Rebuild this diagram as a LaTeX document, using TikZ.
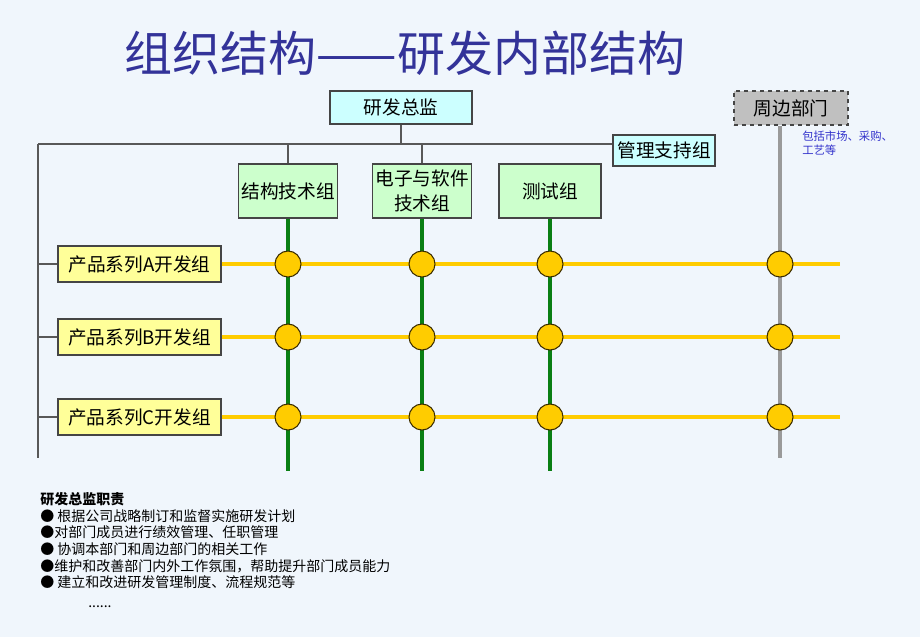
\documentclass[tikz,border=0pt]{standalone}
\usepackage{fontspec}
\setmainfont{Noto Sans CJK SC}
\usepackage{xcolor}
\usetikzlibrary{positioning,calc}
\definecolor{pagebg}{HTML}{F0F6FC}
\definecolor{titleblue}{HTML}{333399}
\definecolor{notecolor}{HTML}{3333CC}
\definecolor{boxedge}{HTML}{454545}
\definecolor{leadfill}{HTML}{CCFFFF}
\definecolor{techfill}{HTML}{CCFFCC}
\definecolor{prodfill}{HTML}{FFFF99}
\definecolor{periphfill}{HTML}{C0C0C0}
\definecolor{hubyellow}{HTML}{FFCC00}
\definecolor{hubedge}{HTML}{3D2E00}
\definecolor{techgreen}{HTML}{0A7F14}
\definecolor{periphgray}{HTML}{9A9A9A}

\begin{document}
\begin{tikzpicture}[
    x=0.75pt,
    y=-0.75pt,
    orgbox/.style={
        rectangle,
        draw=boxedge,
        line width=0.8pt,
        inner sep=2pt,
        align=center,
        font=\fontsize{14}{18.75}\selectfont
    },
    leadbox/.style={
        orgbox,
        fill=leadfill
    },
    techbox/.style={
        orgbox,
        fill=techfill,
        minimum height=40.5pt
    },
    prodbox/.style={
        orgbox,
        fill=prodfill,
        minimum width=122.25pt,
        minimum height=27pt
    },
    periphbox/.style={
        orgbox,
        fill=periphfill,
        dashed,
        minimum width=85.5pt,
        minimum height=25.5pt
    },
    link/.style={
        line width=1pt,
        color=boxedge!90
    },
    greenline/.style={
        line width=3pt,
        color=techgreen
    },
    yellowline/.style={
        line width=3pt,
        color=hubyellow
    },
    grayline/.style={
        line width=3pt,
        color=periphgray
    },
    hub/.style={
        circle,
        minimum size=19.5pt,
        inner sep=0pt,
        fill=hubyellow,
        draw=hubedge,
        line width=0.8pt
    }
]

% Page
\fill[pagebg] (0,0) rectangle (920,637);
\useasboundingbox (0,0) rectangle (920,637);

% Title
\node[text=titleblue, font=\fontsize{36}{42}\selectfont] (title) at (405,53) {组织结构——研发内部结构};

% Top boxes
\node[leadbox, minimum width=106.5pt, minimum height=24.75pt] (director) at (401,107.5) {研发总监};
\node[leadbox, minimum width=76.5pt, minimum height=23.25pt] (mgmt) at (664,150.5) {管理支持组};
\node[periphbox] (periph) at (791,108) {周边部门};
\node[text=notecolor, anchor=north west, align=left, inner sep=0pt,
      font=\fontsize{8.5}{10.5}\selectfont] (note) at (802,131) {包括市场、采购、\\工艺等};

% Technical groups
\node[techbox, minimum width=74.25pt] (struct) at (288,191) {结构技术组};
\node[techbox, minimum width=74.25pt] (elec) at (422,191) {电子与软件\\技术组};
\node[techbox, minimum width=76.5pt] (test) at (550,191) {测试组};

% Product series groups
\foreach \row/\ry in {A/264, B/337, C/417} {
    \node[prodbox] (prod\row) at (139.5,\ry) {产品系列{\row}开发组};
}

% Reporting lines
\coordinate (busL) at (38,144);
\coordinate (leftEnd) at (38,458);
\draw[link] (director.south) -- (director.south |- busL);
\draw[link] (busL) -- (busL -| mgmt.west);
\draw[link] (busL) -- (leftEnd);
\foreach \grp in {struct, elec} {
    \draw[link] (\grp.north |- busL) -- (\grp.north);
}
\foreach \row in {A, B, C} {
    \draw[link] (leftEnd |- prod\row.west) -- (prod\row.west);
}

% Matrix lines
\coordinate (greenEnd) at (0,471);
\coordinate (grayEnd) at (0,458);
\coordinate (peripX) at (780,0);
\coordinate (yellowEnd) at (840,0);
\foreach \row in {A, B, C} {
    \draw[yellowline] (prod\row.east) -- (prod\row.east -| yellowEnd);
}
\foreach \grp in {struct, elec, test} {
    \draw[greenline] (\grp.south) -- (\grp.south |- greenEnd);
}
\draw[grayline] (periph.south -| peripX) -- (peripX |- grayEnd);

% Crossing points
\foreach \row in {A, B, C} {
    \foreach \grp in {struct, elec, test} {
        \node[hub] (hub-\grp-\row) at (\grp.south |- prod\row.east) {};
    }
    \node[hub] (hub-periph-\row) at (peripX |- prod\row.east) {};
}

% Duties of the director
\node[anchor=north west, align=left, inner sep=0pt,
      font=\fontsize{10.5}{12.5}\selectfont] (duties) at (40,492)
    {{\bfseries 研发总监职责}\\
     ● 根据公司战略制订和监督实施研发计划\\
     ●对部门成员进行绩效管理、任职管理\\
     ● 协调本部门和周边部门的相关工作\\
     ●维护和改善部门内外工作氛围，帮助提升部门成员能力\\
     ● 建立和改进研发管理制度、流程规范等\\[2pt]
     \hspace*{36pt}......};

\end{tikzpicture}
\end{document}
